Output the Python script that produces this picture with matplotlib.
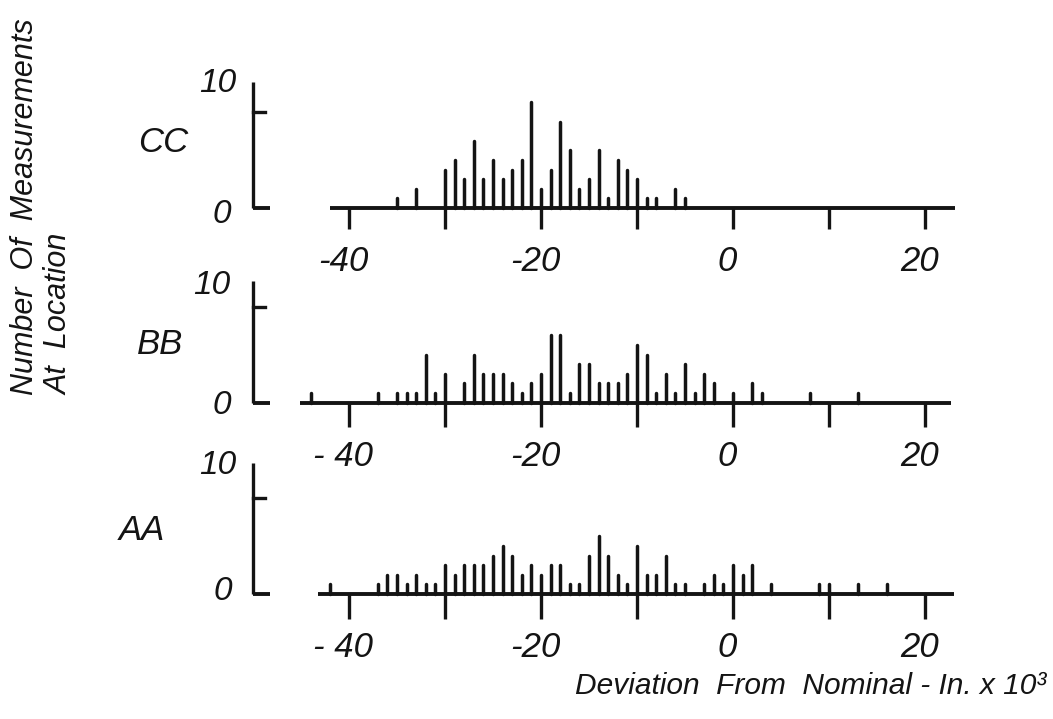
import matplotlib
matplotlib.use('Agg')
import matplotlib.pyplot as plt

W, H = 1053, 719

# ---- data (deviation in in. x 10^3, number of measurements) ----
cc_x = [-35, -33, -30, -29, -28, -27, -26, -25, -24, -23, -22, -21, -20, -19,
        -18, -17, -16, -15, -14, -13, -12, -11, -10, -9, -8, -6, -5]
cc_n = [1, 2, 4, 5, 3, 7, 3, 5, 3, 4, 5, 11, 2, 4, 9, 6, 2, 3, 6, 1, 5, 4, 3,
        1, 1, 2, 1]

bb_x = [-44, -37, -35, -34, -33, -32, -31, -30, -28, -27, -26, -25, -24, -23,
        -22, -21, -20, -19, -18, -17, -16, -15, -14, -13, -12, -11, -10, -9,
        -8, -7, -6, -5, -4, -3, -2, 0, 2, 3, 8, 13]
bb_n = [1, 1, 1, 1, 1, 5, 1, 3, 2, 5, 3, 3, 3, 2, 1, 2, 3, 7, 7, 1, 4, 4, 2, 2,
        2, 3, 6, 5, 1, 3, 1, 4, 1, 3, 2, 1, 2, 1, 1, 1]

aa_x = [-42, -37, -36, -35, -34, -33, -32, -31, -30, -29, -28, -27, -26, -25,
        -24, -23, -22, -21, -20, -19, -18, -17, -16, -15, -14, -13, -12, -11,
        -10, -9, -8, -7, -6, -5, -3, -2, -1, 0, 1, 2, 4, 9, 10, 13, 16]
aa_n = [1, 1, 2, 2, 1, 2, 1, 1, 3, 2, 3, 3, 3, 4, 5, 4, 2, 3, 2, 3, 3, 1, 1, 4,
        6, 4, 2, 1, 5, 2, 2, 4, 1, 1, 1, 2, 1, 3, 2, 3, 1, 1, 1, 1, 1]

panel_names = ['CC', 'BB', 'AA']
x_ticks = [-40, -30, -20, -10, 0, 10, 20]
x_tick_labels = {-40: '-40', -20: '-20', 0: '0', 20: '20'}
x_tick_labels_lower = {-40: '- 40', -20: '-20', 0: '0', 20: '20'}
y_tick_labels = ['0', '10']
xlabel = 'Deviation  From  Nominal - In. x 10³'
ylabel1 = 'Number  Of  Measurements'
ylabel2 = 'At  Location'

# ---- style ----
INK = '#141414'
FAM = ['Liberation Sans', 'DejaVu Sans']
TXT = dict(family=FAM, style='italic', color=INK)

fig = plt.figure(figsize=(W / 100, H / 100), dpi=100)
fig.patch.set_facecolor('white')

PXU = 9.6           # pixels per data unit (both directions)
X0PX = 733          # pixel x of deviation 0
XLIM = (-65, 28)
YLIM = (-7, 15)

# per panel: baseline pixel y, axis top, baseline start, baseline end, tick length
geom = {
    'CC': dict(base=208, top=13.1, start=-42.0, end=23.1, tick=2.2),
    'BB': dict(base=402.5, top=12.7, start=-45.1, end=22.7, tick=2.6),
    'AA': dict(base=594, top=13.6, start=-43.2, end=23.0, tick=2.6),
}
series = {'CC': (cc_x, cc_n), 'BB': (bb_x, bb_n), 'AA': (aa_x, aa_n)}
panel_label_px = {'CC': (163, 142), 'BB': (160, 345), 'AA': (142, 530)}
y10_px = {'CC': (218, 84), 'BB': (212, 286), 'AA': (218, 466)}
y0_px = {'CC': (222, 214), 'BB': (222, 405), 'AA': (223, 592)}


def fx(px):
    return px / W


def fy(py):
    return 1 - py / H


for name in panel_names:
    g = geom[name]
    left = X0PX + XLIM[0] * PXU
    right = X0PX + XLIM[1] * PXU
    top = g['base'] - YLIM[1] * PXU
    bottom = g['base'] - YLIM[0] * PXU
    ax = fig.add_axes([fx(left), fy(bottom), (right - left) / W, (bottom - top) / H])
    ax.set_xlim(*XLIM)
    ax.set_ylim(*YLIM)
    ax.set_axis_off()
    ax.patch.set_alpha(0)

    xs, ns = series[name]
    ax.vlines(xs, 0, ns, colors=INK, linewidth=2.5, capstyle='round', zorder=3)

    # y axis (separate short axis at -50)
    ax.plot([-50, -50], [0, g['top']], color=INK, lw=2.4, solid_capstyle='butt', clip_on=False)
    ax.plot([-50, -48.8], [10, 10], color=INK, lw=2.4, clip_on=False)
    ax.plot([-50, -48.2], [0, 0], color=INK, lw=2.8, solid_capstyle='butt', clip_on=False)

    # x axis
    ax.plot([g['start'], g['end']], [0, 0], color=INK, lw=2.8, solid_capstyle='butt', clip_on=False)
    for t in x_ticks:
        ax.plot([t, t], [0, -g['tick']], color=INK, lw=2.4, solid_capstyle='butt', clip_on=False)

    labels = x_tick_labels if name == 'CC' else x_tick_labels_lower
    for t, s in labels.items():
        ax.text(t - 0.6, -5.6, s, ha='center', va='center', fontsize=25, **TXT)

    fig.text(fx(panel_label_px[name][0]), fy(panel_label_px[name][1]), name,
             ha='center', va='center', fontsize=25, **TXT)
    fig.text(fx(y10_px[name][0]), fy(y10_px[name][1]), y_tick_labels[1],
             ha='center', va='center', fontsize=24, **TXT)
    fig.text(fx(y0_px[name][0]), fy(y0_px[name][1]), y_tick_labels[0],
             ha='center', va='center', fontsize=24, **TXT)

fig.text(fx(811), fy(686), xlabel, ha='center', va='center', fontsize=21.5, **TXT)
fig.text(fx(25), fy(395), ylabel1, ha='center', va='bottom', rotation=90, fontsize=22, **TXT)
fig.text(fx(60), fy(395), ylabel2, ha='center', va='bottom', rotation=90, fontsize=22, **TXT)

fig.savefig('out.png', dpi=100, facecolor='white')
